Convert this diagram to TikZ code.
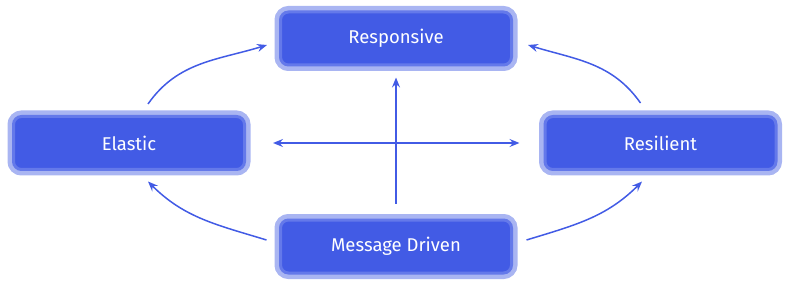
\documentclass[tikz,border=0pt]{standalone}
\usepackage{fontspec}
\setmainfont{Fira Sans}
\usepackage{tikz}
\usetikzlibrary{arrows.meta,positioning,calc}
\definecolor{pri}{RGB}{66,91,229}
\definecolor{rim}{RGB}{100,121,234}
\definecolor{halo}{RGB}{169,181,242}
\tikzset{
  trait/.style={rectangle,rounded corners=8pt,
    fill=pri,draw=rim,line width=3pt,
    preaction={draw=halo,line width=12pt},
    minimum width=231pt,minimum height=53pt,
    text=white,font=\fontsize{18.5}{22}\selectfont},
  flow/.style={-{Stealth[length=10pt,width=8pt,inset=3.5pt]},line width=1.5pt,draw=pri},
  flowboth/.style={{Stealth[length=10pt,width=8pt,inset=3.5pt]}-{Stealth[length=10pt,width=8pt,inset=3.5pt]},line width=1.5pt,draw=pri},
}
\begin{document}
\begin{tikzpicture}[x=1pt,y=1pt]
\useasboundingbox (0,0) rectangle (788,287);

\node[trait] (resp) at (396,248.5) {Responsive};
\node[trait] (ela)  at (129,144)   {Elastic};
\node[trait] (res)  at (660.5,144) {Resilient};
\node[trait] (msg)  at (396,40.5)  {Message Driven};

% straight arrows
\draw[flow,shorten <=15pt,shorten >=11pt] (msg.north) -- (resp.south);
\draw[flowboth,shorten <=27pt,shorten >=24pt] (ela.east) -- (res.west);

% curved arrows
\draw[flow] ([xshift=19pt,yshift=11pt]ela.north) to[out=55,in=197] ([xshift=-12pt,yshift=-6.5pt]resp.west);
\draw[flow] ([xshift=-20pt,yshift=12pt]res.north) to[out=125,in=-17] ([xshift=15pt,yshift=-6.5pt]resp.east);
\draw[flow] ([xshift=-12.5pt,yshift=6.5pt]msg.west) to[out=163,in=-45] ([xshift=19pt,yshift=-10.5pt]ela.south);
\draw[flow] ([xshift=13.5pt,yshift=6.5pt]msg.east) to[out=17,in=225] ([xshift=-18.5pt,yshift=-10.5pt]res.south);
\end{tikzpicture}
\end{document}
